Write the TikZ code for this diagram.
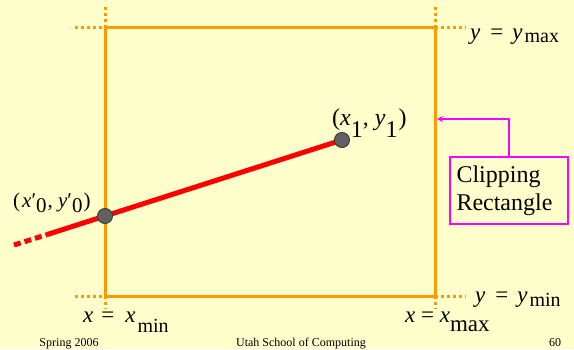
\documentclass[tikz,border=0pt]{standalone}
\usepackage{fontspec}
\setmainfont{Liberation Serif}
\usetikzlibrary{arrows.meta}
\definecolor{slidebg}{RGB}{255,255,204}
\definecolor{cliporange}{RGB}{255,153,0}
\definecolor{segred}{RGB}{255,0,0}
\definecolor{notemagenta}{RGB}{255,0,255}
\newcommand{\fsz}[1]{\fontsize{#1}{#1}\selectfont}
\begin{document}
\begin{tikzpicture}[x=1pt,y=-1pt,line join=miter,
  edge/.style={cliporange,line width=3pt},
  guide/.style={cliporange,line width=3pt,dash pattern=on 3pt off 3pt},
  segment/.style={segred,line width=5pt},
  endpt/.style={circle,draw=black!75,fill=black!62,line width=1pt,minimum size=15pt,inner sep=0pt},
  lbl/.style={anchor=base west,inner sep=0pt,font=\fsz{23}},
  foot/.style={anchor=base,inner sep=0pt,font=\fsz{12}}]
  \fill[slidebg] (0,0) rectangle (574,349);
  \useasboundingbox (0,0) rectangle (574,349);
  \coordinate (LT) at (105,27);
  \coordinate (RT) at (435,27);
  \coordinate (LB) at (105,296);
  \coordinate (RB) at (435,296);
  \coordinate (P0) at (105,216);
  \coordinate (P1) at (342,140);
  \coordinate (Q) at (47,234.6);
  \coordinate (E) at (14,245);
  \coordinate (T) at (437,119);
  % clip window and its extended edges
  \draw[guide] (75,27) -- (LT);
  \draw[guide] (105,7) -- (LT);
  \draw[guide] (RT) -- (466,27);
  \draw[guide] (435,7) -- (RT);
  \draw[guide] (75,296) -- (LB);
  \draw[guide] (LB) -- (105,309);
  \draw[guide] (RB) -- (466,296);
  \draw[guide] (RB) -- (435,309);
  \draw[edge] (LT) -- (RT) -- (RB) -- (LB) -- cycle;
  % the line
  \draw[segment,dash pattern=on 7pt off 4pt] (E) -- (Q);
  \draw[segment] (Q) -- (P1);
  \node[endpt] (p0) at (P0) {};
  \node[endpt] (p1) at (P1) {};
  \node[lbl,font=\fsz{21}] (p0lbl) at (13,207)
    {(\hspace{2pt}\textit{x}′\raisebox{-5pt}{0}\hspace{1pt}, \textit{y}′\raisebox{-5pt}{0}\hspace{1pt})};
  \node[lbl,font=\fsz{24}] (p1lbl) at (332,125)
    {(\textit{x}\raisebox{-12pt}{1}, \textit{y}\raisebox{-12pt}{1}\hspace{1pt})};
  % edge labels
  \node[lbl] (ymax) at (470,39)
    {\textit{y}\hspace{10pt}=\hspace{9pt}\textit{y}\hspace{2pt}\raisebox{-3pt}{\fsz{20}max}};
  \node[lbl] (ymin) at (475,302)
    {\textit{y}\hspace{10pt}=\hspace{9pt}\textit{y}\hspace{2pt}\raisebox{-4pt}{\fsz{20}min}};
  \node[lbl] (xmin) at (83,322)
    {\textit{x}\hspace{8pt}=\hspace{11pt}\textit{x}\hspace{2pt}\raisebox{-10pt}{\fsz{20}min}};
  \node[lbl] (xmax) at (405,322)
    {\textit{x} = \textit{x}\raisebox{-9pt}{max}};
  % note box
  \node[draw=notemagenta,line width=2pt,fill=slidebg,text width=105pt,inner xsep=6.5pt,minimum height=67pt,
    align=left,font=\fontsize{24}{28}\selectfont] (clip) at (509,190.5) {Clipping\\Rectangle};
  \draw[notemagenta,line width=2pt,-{Stealth[length=6pt,width=6pt]}] (clip.north) |- (T);
  % footer
  \node[foot] (date) at (69,346) {Spring 2006};
  \node[foot] (school) at (301,346) {Utah School of Computing};
  \node[foot] (page) at (555,346) {60};
\end{tikzpicture}
\end{document}
